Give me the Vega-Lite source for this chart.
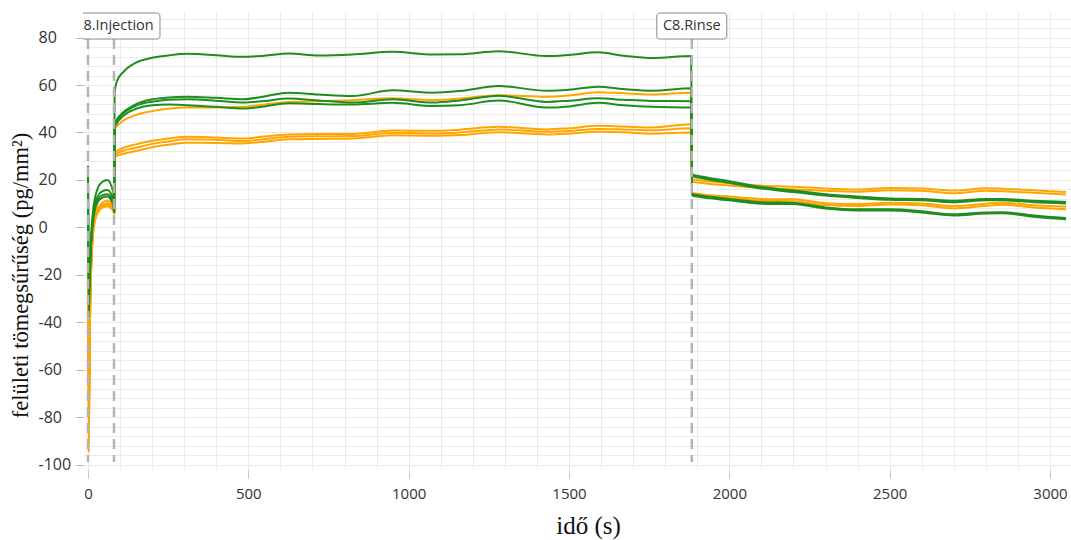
{
  "$schema": "https://vega.github.io/schema/vega-lite/v6.json",
  "width": 988,
  "height": 458,
  "autosize": {"type": "none"},
  "padding": {"left": 83, "top": 12, "right": 0, "bottom": 70},
  "background": "white",
  "config": {"view": {"stroke": null}},
  "datasets": {
    "meres": [
      {"series":"O1","group":"B","t":0,"v":18},{"series":"O1","group":"B","t":2,"v":-95},{"series":"O1","group":"B","t":6,"v":-40},{"series":"O1","group":"B","t":10,"v":-15},{"series":"O1","group":"B","t":15,"v":-2},{"series":"O1","group":"B","t":22,"v":5},{"series":"O1","group":"B","t":32,"v":8.5},{"series":"O1","group":"B","t":45,"v":10.5},{"series":"O1","group":"B","t":60,"v":11.2},{"series":"O1","group":"B","t":79,"v":8.8},{"series":"O1","group":"B","t":81.5,"v":6.3},
      {"series":"O1","group":"B","t":83,"v":41.5},{"series":"O1","group":"B","t":90,"v":42.7},{"series":"O1","group":"B","t":110,"v":45},{"series":"O1","group":"B","t":150,"v":47.4},{"series":"O1","group":"B","t":200,"v":49},{"series":"O1","group":"B","t":250,"v":50},{"series":"O1","group":"B","t":310,"v":50.5},{"series":"O1","group":"B","t":400,"v":50.5},{"series":"O1","group":"B","t":485,"v":50.8},{"series":"O1","group":"B","t":550,"v":51.8},{"series":"O1","group":"B","t":625,"v":52.9},{"series":"O1","group":"B","t":720,"v":53.2},{"series":"O1","group":"B","t":825,"v":53.6},{"series":"O1","group":"B","t":950,"v":54.4},{"series":"O1","group":"B","t":1075,"v":53.7},{"series":"O1","group":"B","t":1160,"v":54.3},{"series":"O1","group":"B","t":1280,"v":55.7},{"series":"O1","group":"B","t":1430,"v":55.1},{"series":"O1","group":"B","t":1500,"v":55.6},{"series":"O1","group":"B","t":1590,"v":57},{"series":"O1","group":"B","t":1670,"v":56.5},{"series":"O1","group":"B","t":1760,"v":56},{"series":"O1","group":"B","t":1881,"v":56.8},
      {"series":"O1","group":"B","t":1884,"v":20.3},{"series":"O1","group":"B","t":1900,"v":20},{"series":"O1","group":"B","t":2000,"v":18.6},{"series":"O1","group":"B","t":2100,"v":17.6},{"series":"O1","group":"B","t":2200,"v":17.1},{"series":"O1","group":"B","t":2300,"v":16.4},{"series":"O1","group":"B","t":2400,"v":16},{"series":"O1","group":"B","t":2500,"v":16.6},{"series":"O1","group":"B","t":2600,"v":16.4},{"series":"O1","group":"B","t":2700,"v":15.5},{"series":"O1","group":"B","t":2800,"v":16.5},{"series":"O1","group":"B","t":2850,"v":16.3},{"series":"O1","group":"B","t":2950,"v":15.6},{"series":"O1","group":"B","t":3050,"v":14.9},

      {"series":"O2","group":"B","t":0,"v":17},{"series":"O2","group":"B","t":2,"v":-92},{"series":"O2","group":"B","t":6,"v":-40},{"series":"O2","group":"B","t":10,"v":-16},{"series":"O2","group":"B","t":15,"v":-3},{"series":"O2","group":"B","t":22,"v":4},{"series":"O2","group":"B","t":32,"v":7.5},{"series":"O2","group":"B","t":45,"v":9.6},{"series":"O2","group":"B","t":60,"v":10.2},{"series":"O2","group":"B","t":79,"v":8},{"series":"O2","group":"B","t":81.5,"v":6.2},
      {"series":"O2","group":"B","t":83,"v":31.5},{"series":"O2","group":"B","t":90,"v":32.3},{"series":"O2","group":"B","t":110,"v":33.5},{"series":"O2","group":"B","t":150,"v":35},{"series":"O2","group":"B","t":200,"v":36.5},{"series":"O2","group":"B","t":250,"v":37.5},{"series":"O2","group":"B","t":310,"v":38.2},{"series":"O2","group":"B","t":400,"v":37.9},{"series":"O2","group":"B","t":485,"v":37.5},{"series":"O2","group":"B","t":550,"v":38.3},{"series":"O2","group":"B","t":625,"v":39.2},{"series":"O2","group":"B","t":720,"v":39.4},{"series":"O2","group":"B","t":825,"v":39.4},{"series":"O2","group":"B","t":950,"v":40.8},{"series":"O2","group":"B","t":1075,"v":40.7},{"series":"O2","group":"B","t":1160,"v":41.2},{"series":"O2","group":"B","t":1280,"v":42.4},{"series":"O2","group":"B","t":1430,"v":41.3},{"series":"O2","group":"B","t":1500,"v":41.8},{"series":"O2","group":"B","t":1590,"v":42.8},{"series":"O2","group":"B","t":1670,"v":42.5},{"series":"O2","group":"B","t":1760,"v":42.1},{"series":"O2","group":"B","t":1881,"v":43.5},
      {"series":"O2","group":"B","t":1884,"v":19.2},{"series":"O2","group":"B","t":1900,"v":18.9},{"series":"O2","group":"B","t":2000,"v":17.6},{"series":"O2","group":"B","t":2100,"v":16.6},{"series":"O2","group":"B","t":2200,"v":16.1},{"series":"O2","group":"B","t":2300,"v":15.4},{"series":"O2","group":"B","t":2400,"v":15},{"series":"O2","group":"B","t":2500,"v":15.6},{"series":"O2","group":"B","t":2600,"v":15.4},{"series":"O2","group":"B","t":2700,"v":14.4},{"series":"O2","group":"B","t":2800,"v":15.4},{"series":"O2","group":"B","t":2850,"v":15.2},{"series":"O2","group":"B","t":2950,"v":14.6},{"series":"O2","group":"B","t":3050,"v":13.9},

      {"series":"O3","group":"B","t":0,"v":16},{"series":"O3","group":"B","t":2,"v":-88},{"series":"O3","group":"B","t":6,"v":-40},{"series":"O3","group":"B","t":10,"v":-17},{"series":"O3","group":"B","t":15,"v":-4},{"series":"O3","group":"B","t":22,"v":3.5},{"series":"O3","group":"B","t":32,"v":7},{"series":"O3","group":"B","t":45,"v":9},{"series":"O3","group":"B","t":60,"v":9.5},{"series":"O3","group":"B","t":79,"v":7.4},{"series":"O3","group":"B","t":81.5,"v":6},
      {"series":"O3","group":"B","t":83,"v":30.5},{"series":"O3","group":"B","t":90,"v":31.2},{"series":"O3","group":"B","t":110,"v":32.3},{"series":"O3","group":"B","t":150,"v":33.6},{"series":"O3","group":"B","t":200,"v":35.2},{"series":"O3","group":"B","t":250,"v":36.2},{"series":"O3","group":"B","t":310,"v":37.1},{"series":"O3","group":"B","t":400,"v":36.9},{"series":"O3","group":"B","t":485,"v":36.4},{"series":"O3","group":"B","t":550,"v":37.2},{"series":"O3","group":"B","t":625,"v":38.2},{"series":"O3","group":"B","t":720,"v":38.4},{"series":"O3","group":"B","t":825,"v":38.5},{"series":"O3","group":"B","t":950,"v":39.9},{"series":"O3","group":"B","t":1075,"v":39.6},{"series":"O3","group":"B","t":1160,"v":40},{"series":"O3","group":"B","t":1280,"v":41.3},{"series":"O3","group":"B","t":1430,"v":40.3},{"series":"O3","group":"B","t":1500,"v":40.6},{"series":"O3","group":"B","t":1590,"v":41.5},{"series":"O3","group":"B","t":1670,"v":41.3},{"series":"O3","group":"B","t":1760,"v":40.9},{"series":"O3","group":"B","t":1881,"v":41.8},
      {"series":"O3","group":"B","t":1884,"v":14.6},{"series":"O3","group":"B","t":1900,"v":14.2},{"series":"O3","group":"B","t":2000,"v":13},{"series":"O3","group":"B","t":2100,"v":12},{"series":"O3","group":"B","t":2200,"v":11.8},{"series":"O3","group":"B","t":2300,"v":10.2},{"series":"O3","group":"B","t":2400,"v":9.8},{"series":"O3","group":"B","t":2500,"v":10.4},{"series":"O3","group":"B","t":2600,"v":10.1},{"series":"O3","group":"B","t":2700,"v":8.9},{"series":"O3","group":"B","t":2800,"v":10},{"series":"O3","group":"B","t":2850,"v":10.4},{"series":"O3","group":"B","t":2950,"v":9.3},{"series":"O3","group":"B","t":3050,"v":8.7},

      {"series":"O4","group":"B","t":0,"v":15},{"series":"O4","group":"B","t":2,"v":-84},{"series":"O4","group":"B","t":6,"v":-40},{"series":"O4","group":"B","t":10,"v":-17},{"series":"O4","group":"B","t":15,"v":-4},{"series":"O4","group":"B","t":22,"v":3},{"series":"O4","group":"B","t":32,"v":6.5},{"series":"O4","group":"B","t":45,"v":8.3},{"series":"O4","group":"B","t":60,"v":8.8},{"series":"O4","group":"B","t":79,"v":6.9},{"series":"O4","group":"B","t":81.5,"v":5.8},
      {"series":"O4","group":"B","t":83,"v":29.8},{"series":"O4","group":"B","t":90,"v":30.2},{"series":"O4","group":"B","t":110,"v":31},{"series":"O4","group":"B","t":150,"v":32.2},{"series":"O4","group":"B","t":200,"v":33.8},{"series":"O4","group":"B","t":250,"v":34.8},{"series":"O4","group":"B","t":310,"v":35.7},{"series":"O4","group":"B","t":400,"v":35.6},{"series":"O4","group":"B","t":485,"v":35.4},{"series":"O4","group":"B","t":550,"v":36.1},{"series":"O4","group":"B","t":625,"v":37.1},{"series":"O4","group":"B","t":720,"v":37.3},{"series":"O4","group":"B","t":825,"v":37.5},{"series":"O4","group":"B","t":950,"v":38.8},{"series":"O4","group":"B","t":1075,"v":38.6},{"series":"O4","group":"B","t":1160,"v":38.9},{"series":"O4","group":"B","t":1280,"v":40.1},{"series":"O4","group":"B","t":1430,"v":39.2},{"series":"O4","group":"B","t":1500,"v":39.5},{"series":"O4","group":"B","t":1590,"v":40.3},{"series":"O4","group":"B","t":1670,"v":40.1},{"series":"O4","group":"B","t":1760,"v":39.5},{"series":"O4","group":"B","t":1881,"v":40},
      {"series":"O4","group":"B","t":1884,"v":14},{"series":"O4","group":"B","t":1900,"v":13.6},{"series":"O4","group":"B","t":2000,"v":12.3},{"series":"O4","group":"B","t":2100,"v":11.2},{"series":"O4","group":"B","t":2200,"v":11},{"series":"O4","group":"B","t":2300,"v":9.4},{"series":"O4","group":"B","t":2400,"v":9},{"series":"O4","group":"B","t":2500,"v":9.6},{"series":"O4","group":"B","t":2600,"v":9.3},{"series":"O4","group":"B","t":2700,"v":8},{"series":"O4","group":"B","t":2800,"v":9.1},{"series":"O4","group":"B","t":2850,"v":9.5},{"series":"O4","group":"B","t":2950,"v":8.4},{"series":"O4","group":"B","t":3050,"v":7.6},

      {"series":"G1","group":"A","t":0,"v":26},{"series":"G1","group":"A","t":2,"v":-38},{"series":"G1","group":"A","t":6,"v":-20},{"series":"G1","group":"A","t":10,"v":-4},{"series":"G1","group":"A","t":15,"v":6},{"series":"G1","group":"A","t":22,"v":12.5},{"series":"G1","group":"A","t":32,"v":17},{"series":"G1","group":"A","t":45,"v":19.2},{"series":"G1","group":"A","t":60,"v":20},{"series":"G1","group":"A","t":79,"v":14.7},{"series":"G1","group":"A","t":81.5,"v":6.5},
      {"series":"G1","group":"A","t":83,"v":57},{"series":"G1","group":"A","t":90,"v":61.5},{"series":"G1","group":"A","t":110,"v":65.5},{"series":"G1","group":"A","t":150,"v":69.5},{"series":"G1","group":"A","t":200,"v":71.5},{"series":"G1","group":"A","t":250,"v":72.5},{"series":"G1","group":"A","t":310,"v":73.2},{"series":"G1","group":"A","t":400,"v":72.6},{"series":"G1","group":"A","t":485,"v":71.9},{"series":"G1","group":"A","t":550,"v":72.4},{"series":"G1","group":"A","t":625,"v":73.3},{"series":"G1","group":"A","t":720,"v":72.5},{"series":"G1","group":"A","t":825,"v":72.9},{"series":"G1","group":"A","t":950,"v":74},{"series":"G1","group":"A","t":1075,"v":72.9},{"series":"G1","group":"A","t":1160,"v":73},{"series":"G1","group":"A","t":1280,"v":74.3},{"series":"G1","group":"A","t":1430,"v":72.2},{"series":"G1","group":"A","t":1500,"v":72.7},{"series":"G1","group":"A","t":1590,"v":73.8},{"series":"G1","group":"A","t":1670,"v":72.4},{"series":"G1","group":"A","t":1760,"v":71.4},{"series":"G1","group":"A","t":1881,"v":72.2},
      {"series":"G1","group":"A","t":1884,"v":22.3},{"series":"G1","group":"A","t":1900,"v":21.8},{"series":"G1","group":"A","t":2000,"v":19.5},{"series":"G1","group":"A","t":2100,"v":17},{"series":"G1","group":"A","t":2200,"v":15.5},{"series":"G1","group":"A","t":2300,"v":14},{"series":"G1","group":"A","t":2400,"v":13},{"series":"G1","group":"A","t":2500,"v":12.2},{"series":"G1","group":"A","t":2600,"v":12},{"series":"G1","group":"A","t":2700,"v":11.2},{"series":"G1","group":"A","t":2800,"v":12},{"series":"G1","group":"A","t":2850,"v":12},{"series":"G1","group":"A","t":2950,"v":11.2},{"series":"G1","group":"A","t":3050,"v":10.7},

      {"series":"G2","group":"A","t":0,"v":25},{"series":"G2","group":"A","t":2,"v":-32},{"series":"G2","group":"A","t":6,"v":-18},{"series":"G2","group":"A","t":10,"v":-5},{"series":"G2","group":"A","t":15,"v":4},{"series":"G2","group":"A","t":22,"v":10},{"series":"G2","group":"A","t":32,"v":13.5},{"series":"G2","group":"A","t":45,"v":15.3},{"series":"G2","group":"A","t":60,"v":15.8},{"series":"G2","group":"A","t":79,"v":11.8},{"series":"G2","group":"A","t":81.5,"v":6.5},
      {"series":"G2","group":"A","t":83,"v":43.5},{"series":"G2","group":"A","t":90,"v":45.5},{"series":"G2","group":"A","t":110,"v":48.5},{"series":"G2","group":"A","t":150,"v":52},{"series":"G2","group":"A","t":200,"v":54},{"series":"G2","group":"A","t":250,"v":54.8},{"series":"G2","group":"A","t":310,"v":55.1},{"series":"G2","group":"A","t":400,"v":54.6},{"series":"G2","group":"A","t":485,"v":54},{"series":"G2","group":"A","t":550,"v":55.2},{"series":"G2","group":"A","t":625,"v":56.8},{"series":"G2","group":"A","t":720,"v":56},{"series":"G2","group":"A","t":825,"v":55.4},{"series":"G2","group":"A","t":950,"v":57.8},{"series":"G2","group":"A","t":1075,"v":56.8},{"series":"G2","group":"A","t":1160,"v":57.5},{"series":"G2","group":"A","t":1280,"v":59.6},{"series":"G2","group":"A","t":1430,"v":57.6},{"series":"G2","group":"A","t":1500,"v":58},{"series":"G2","group":"A","t":1590,"v":59.3},{"series":"G2","group":"A","t":1670,"v":58.3},{"series":"G2","group":"A","t":1760,"v":57.6},{"series":"G2","group":"A","t":1881,"v":58.6},
      {"series":"G2","group":"A","t":1884,"v":21.6},{"series":"G2","group":"A","t":1900,"v":21.1},{"series":"G2","group":"A","t":2000,"v":18.8},{"series":"G2","group":"A","t":2100,"v":16.4},{"series":"G2","group":"A","t":2200,"v":14.9},{"series":"G2","group":"A","t":2300,"v":13.4},{"series":"G2","group":"A","t":2400,"v":12.4},{"series":"G2","group":"A","t":2500,"v":11.6},{"series":"G2","group":"A","t":2600,"v":11.4},{"series":"G2","group":"A","t":2700,"v":10.6},{"series":"G2","group":"A","t":2800,"v":11.4},{"series":"G2","group":"A","t":2850,"v":11.4},{"series":"G2","group":"A","t":2950,"v":10.6},{"series":"G2","group":"A","t":3050,"v":10.1},

      {"series":"G3","group":"A","t":0,"v":24},{"series":"G3","group":"A","t":2,"v":-28},{"series":"G3","group":"A","t":6,"v":-17},{"series":"G3","group":"A","t":10,"v":-6},{"series":"G3","group":"A","t":15,"v":3},{"series":"G3","group":"A","t":22,"v":8.5},{"series":"G3","group":"A","t":32,"v":12},{"series":"G3","group":"A","t":45,"v":13.6},{"series":"G3","group":"A","t":60,"v":14},{"series":"G3","group":"A","t":79,"v":10.5},{"series":"G3","group":"A","t":81.5,"v":6.5},
      {"series":"G3","group":"A","t":83,"v":43},{"series":"G3","group":"A","t":90,"v":45},{"series":"G3","group":"A","t":110,"v":48},{"series":"G3","group":"A","t":150,"v":51.3},{"series":"G3","group":"A","t":200,"v":53},{"series":"G3","group":"A","t":250,"v":53.8},{"series":"G3","group":"A","t":310,"v":54},{"series":"G3","group":"A","t":400,"v":53.4},{"series":"G3","group":"A","t":485,"v":52.6},{"series":"G3","group":"A","t":550,"v":53.3},{"series":"G3","group":"A","t":625,"v":54.3},{"series":"G3","group":"A","t":720,"v":53.5},{"series":"G3","group":"A","t":825,"v":52.6},{"series":"G3","group":"A","t":950,"v":54},{"series":"G3","group":"A","t":1075,"v":52.6},{"series":"G3","group":"A","t":1160,"v":53.5},{"series":"G3","group":"A","t":1280,"v":55.5},{"series":"G3","group":"A","t":1430,"v":52.9},{"series":"G3","group":"A","t":1500,"v":53.4},{"series":"G3","group":"A","t":1590,"v":54.4},{"series":"G3","group":"A","t":1670,"v":53.8},{"series":"G3","group":"A","t":1760,"v":53.3},{"series":"G3","group":"A","t":1881,"v":53.2},
      {"series":"G3","group":"A","t":1884,"v":14},{"series":"G3","group":"A","t":1900,"v":13.6},{"series":"G3","group":"A","t":2000,"v":12},{"series":"G3","group":"A","t":2100,"v":10.6},{"series":"G3","group":"A","t":2200,"v":10.3},{"series":"G3","group":"A","t":2300,"v":8.4},{"series":"G3","group":"A","t":2400,"v":7.6},{"series":"G3","group":"A","t":2500,"v":7.6},{"series":"G3","group":"A","t":2600,"v":6.8},{"series":"G3","group":"A","t":2700,"v":5.5},{"series":"G3","group":"A","t":2800,"v":6.3},{"series":"G3","group":"A","t":2850,"v":6.4},{"series":"G3","group":"A","t":2950,"v":5},{"series":"G3","group":"A","t":3050,"v":3.9},

      {"series":"G4","group":"A","t":0,"v":23},{"series":"G4","group":"A","t":2,"v":-24},{"series":"G4","group":"A","t":6,"v":-16},{"series":"G4","group":"A","t":10,"v":-6},{"series":"G4","group":"A","t":15,"v":2},{"series":"G4","group":"A","t":22,"v":7.5},{"series":"G4","group":"A","t":32,"v":11},{"series":"G4","group":"A","t":45,"v":12.5},{"series":"G4","group":"A","t":60,"v":13},{"series":"G4","group":"A","t":79,"v":9.5},{"series":"G4","group":"A","t":81.5,"v":6.5},
      {"series":"G4","group":"A","t":83,"v":42},{"series":"G4","group":"A","t":90,"v":44},{"series":"G4","group":"A","t":110,"v":47},{"series":"G4","group":"A","t":150,"v":50},{"series":"G4","group":"A","t":200,"v":51.5},{"series":"G4","group":"A","t":250,"v":51.8},{"series":"G4","group":"A","t":310,"v":51.5},{"series":"G4","group":"A","t":400,"v":50.8},{"series":"G4","group":"A","t":485,"v":50.1},{"series":"G4","group":"A","t":550,"v":51},{"series":"G4","group":"A","t":625,"v":52.3},{"series":"G4","group":"A","t":720,"v":52},{"series":"G4","group":"A","t":825,"v":51.8},{"series":"G4","group":"A","t":950,"v":52.5},{"series":"G4","group":"A","t":1075,"v":51.2},{"series":"G4","group":"A","t":1160,"v":51.5},{"series":"G4","group":"A","t":1280,"v":53.5},{"series":"G4","group":"A","t":1430,"v":50.5},{"series":"G4","group":"A","t":1500,"v":51},{"series":"G4","group":"A","t":1590,"v":52.5},{"series":"G4","group":"A","t":1670,"v":51.5},{"series":"G4","group":"A","t":1760,"v":50.8},{"series":"G4","group":"A","t":1881,"v":50.5},
      {"series":"G4","group":"A","t":1884,"v":13.4},{"series":"G4","group":"A","t":1900,"v":13},{"series":"G4","group":"A","t":2000,"v":11.4},{"series":"G4","group":"A","t":2100,"v":10},{"series":"G4","group":"A","t":2200,"v":9.8},{"series":"G4","group":"A","t":2300,"v":7.9},{"series":"G4","group":"A","t":2400,"v":7.1},{"series":"G4","group":"A","t":2500,"v":7.1},{"series":"G4","group":"A","t":2600,"v":6.3},{"series":"G4","group":"A","t":2700,"v":5},{"series":"G4","group":"A","t":2800,"v":5.8},{"series":"G4","group":"A","t":2850,"v":5.9},{"series":"G4","group":"A","t":2950,"v":4.5},{"series":"G4","group":"A","t":3050,"v":3.4}
    ],
    "esemenyek": [
      {"t": 0, "label": ""},
      {"t": 81, "label": "C8.Injection"},
      {"t": 1883, "label": "C8.Rinse"}
    ]
  },
  "layer": [
    {
      "data": {"name": "meres"},
      "mark": {"type": "line", "interpolate": "monotone", "strokeWidth": 2, "clip": true},
      "encoding": {
        "x": {
          "field": "t", "type": "quantitative", "title": "idő (s)",
          "scale": {"domain": [0, 3050], "nice": false, "zero": false},
          "axis": {
            "values": [0,100,200,300,400,500,600,700,800,900,1000,1100,1200,1300,1400,1500,1600,1700,1800,1900,2000,2100,2200,2300,2400,2500,2600,2700,2800,2900,3000],
            "tickCount": 200,
            "title": "idő (s)",
            "grid": true, "gridColor": "#ebebeb", "gridWidth": 1,
            "domain": false,
            "tickSize": 8, "tickColor": "#c4c4c4", "tickWidth": 1,
            "tickOpacity": {"condition": {"test": "datum.value % 500 === 0", "value": 1}, "value": 0},
            "labelExpr": "datum.value % 500 === 0 ? toString(datum.value) : ''",
            "labelOverlap": false, "labelBound": false,
            "labelFont": "Open Sans", "labelFontSize": 15, "labelColor": "#333333", "labelPadding": 8,
            "titleFont": "Liberation Serif", "titleFontSize": 25, "titleFontWeight": "normal", "titleColor": "#111111",
            "titleX": 505, "titleY": 63, "titleBaseline": "alphabetic", "titleAlign": "center"
          }
        },
        "y": {
          "field": "v", "type": "quantitative", "title": "felületi tömegsűrűség (pg/mm²)",
          "scale": {"domain": [-102.3, 90.8], "nice": false, "zero": false},
          "axis": {
            "values": [-100,-96,-92,-88,-84,-80,-76,-72,-68,-64,-60,-56,-52,-48,-44,-40,-36,-32,-28,-24,-20,-16,-12,-8,-4,0,4,8,12,16,20,24,28,32,36,40,44,48,52,56,60,64,68,72,76,80,84,88],
            "tickCount": 200,
            "title": "felületi tömegsűrűség (pg/mm²)",
            "grid": true, "gridColor": "#ebebeb", "gridWidth": 1,
            "domain": false,
            "tickSize": 7, "tickColor": "#b4b4b4", "tickWidth": 1,
            "tickOpacity": {"condition": {"test": "datum.value % 20 === 0", "value": 1}, "value": 0},
            "labelExpr": "datum.value % 20 === 0 ? toString(datum.value) : ''",
            "labelOverlap": false, "labelBound": false,
            "labelAlign": "left", "labelPadding": 38,
            "labelFont": "Open Sans", "labelFontSize": 16, "labelColor": "#333333",
            "titleFont": "Liberation Serif", "titleFontSize": 22.5, "titleFontWeight": "normal", "titleColor": "#111111",
            "titleX": -56, "titleY": 263, "titleBaseline": "alphabetic", "titleAlign": "center", "titleAngle": -90
          }
        },
        "color": {
          "field": "group", "type": "nominal",
          "scale": {"domain": ["A", "B"], "range": ["#1e8c1e", "#ffa500"]},
          "legend": null
        },
        "detail": {"field": "series"}
      }
    },
    {
      "data": {"name": "esemenyek"},
      "mark": {"type": "rule", "stroke": "#b4b4b4", "strokeWidth": 2.5, "strokeDash": [10, 6]},
      "encoding": {
        "x": {"field": "t", "type": "quantitative", "title": "idő (s)"},
        "y": {"datum": 79.4},
        "y2": {"datum": -98.9}
      }
    },
    {
      "data": {"name": "esemenyek"},
      "transform": [{"filter": "datum.label === 'C8.Injection'"}],
      "mark": {"type": "bar", "width": 92, "cornerRadius": 3, "fill": "white", "stroke": "#8c8c8c", "strokeWidth": 1, "clip": true},
      "encoding": {
        "x": {"field": "t", "type": "quantitative", "title": "idő (s)"},
        "y": {"datum": 90.37},
        "y2": {"datum": 79.4}
      }
    },
    {
      "data": {"name": "esemenyek"},
      "transform": [{"filter": "datum.label === 'C8.Rinse'"}],
      "mark": {"type": "bar", "width": 70, "cornerRadius": 3, "fill": "white", "stroke": "#8c8c8c", "strokeWidth": 1, "clip": true},
      "encoding": {
        "x": {"field": "t", "type": "quantitative", "title": "idő (s)"},
        "y": {"datum": 90.37},
        "y2": {"datum": 79.4}
      }
    },
    {
      "data": {"name": "esemenyek"},
      "transform": [{"filter": "datum.label !== ''"}],
      "mark": {"type": "text", "font": "Open Sans", "fontSize": 14.5, "color": "#333333", "align": "center", "baseline": "middle", "clip": true},
      "encoding": {
        "x": {"field": "t", "type": "quantitative", "title": "idő (s)"},
        "y": {"datum": 84.9},
        "text": {"field": "label"}
      }
    }
  ]
}
